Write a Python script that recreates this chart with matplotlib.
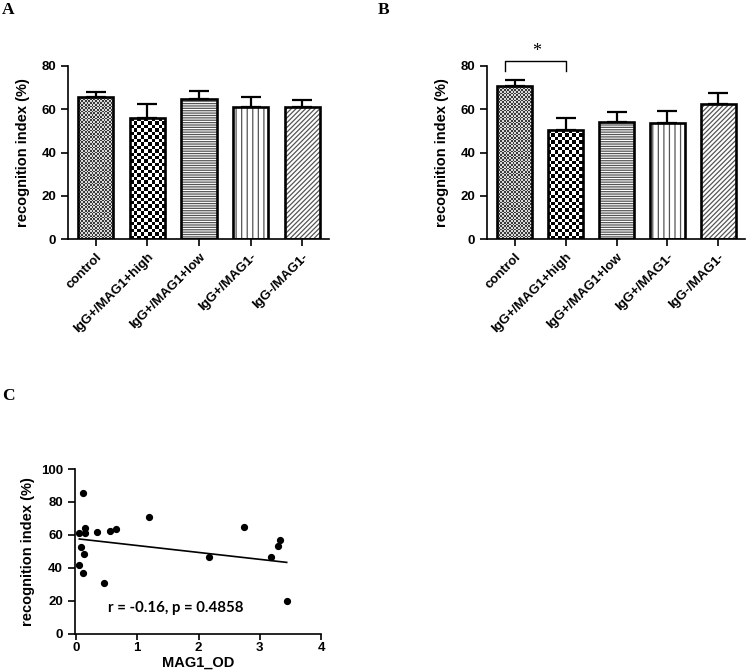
import numpy as np
import matplotlib
matplotlib.use("Agg")
import matplotlib.pyplot as plt
from matplotlib.colors import ListedColormap

plt.rcParams['font.family'] = ['Liberation Sans', 'DejaVu Sans']
plt.rcParams['font.weight'] = 'bold'
plt.rcParams['hatch.linewidth'] = 0.9

# data
groups = ['control', 'IgG+/MAG1+high', 'IgG+/MAG1+low', 'IgG+/MAG1-', 'IgG-/MAG1-']
vals_a = [65.5, 55.8, 64.7, 61.2, 61.2]
err_a = [2.3, 6.6, 3.7, 4.5, 2.9]
vals_b = [70.6, 50.4, 54.0, 53.5, 62.6]
err_b = [2.8, 5.4, 4.7, 5.7, 4.8]

mag1_od = [0.054, 0.054, 0.076, 0.109, 0.12, 0.13, 0.14, 0.14, 0.35, 0.45,
           0.555, 0.66, 1.19, 2.17, 2.75, 3.19, 3.29, 3.33, 3.44]
recog = [61.0, 41.5, 52.4, 85.2, 37.0, 48.4, 64.4, 61.1, 61.5, 30.6,
         62.2, 63.6, 70.7, 46.8, 64.6, 46.6, 53.1, 56.7, 19.7]
# regression line as drawn in the figure (end points)
fit_x = [0.054, 3.44]
fit_y = [57.5, 43.3]
stat_text = 'r = -0.16, p = 0.4858'

W, H = 746, 672
fig = plt.figure(figsize=(W / 100, H / 100), dpi=100)


def ax_rect(x0, y0, x1, y1):
    # pixel box -> figure fraction
    return [x0 / W, 1 - y1 / H, (x1 - x0) / W, (y1 - y0) / H]


def style_axes(ax):
    for s in ['top', 'right']:
        ax.spines[s].set_visible(False)
    for s in ['left', 'bottom']:
        ax.spines[s].set_linewidth(1.2)
    ax.tick_params(direction='out', length=5, width=1.2, labelsize=9.5)


def checker(ax, bar, cell_px, colors, zorder):
    x0, y0 = bar.get_x(), bar.get_y()
    w, h = bar.get_width(), bar.get_height()
    p0 = ax.transData.transform((x0, y0))
    p1 = ax.transData.transform((x0 + w, y0 + h))
    nx = max(1, int(round((p1[0] - p0[0]) / cell_px)))
    ny = max(1, int(round((p1[1] - p0[1]) / cell_px)))
    arr = np.add.outer(np.arange(ny), np.arange(nx)) % 2
    ax.imshow(arr, cmap=ListedColormap(colors), extent=(x0, x0 + w, y0, y0 + h),
              aspect='auto', interpolation='nearest', zorder=zorder)


def bar_panel(ax, vals, errs):
    x = np.arange(len(groups))
    ax.set_xlim(-0.54, 4.52)
    ax.set_ylim(0, 80)
    width = 0.68
    bars = ax.bar(x, vals, width, color='white', linewidth=0, zorder=2)
    checker(ax, bars[0], 1.7, ['#3a3a3a', '#d8d8d8'], 2.5)
    checker(ax, bars[1], 3.4, ['black', 'white'], 2.5)
    ax.bar(x[2], vals[2], width, color='white', hatch='-------', edgecolor='#555555', linewidth=0, zorder=2.5)
    ax.bar(x[3], vals[3], width, color='white', hatch='|||', edgecolor='#555555', linewidth=0, zorder=2.5)
    ax.bar(x[4], vals[4], width, color='white', hatch='///////', edgecolor='#555555', linewidth=0, zorder=2.5)
    ax.bar(x, vals, width, fill=False, edgecolor='black', linewidth=1.9, zorder=3)
    ax.errorbar(x, vals, yerr=[np.zeros(len(errs)), errs], fmt='none', ecolor='black',
                elinewidth=1.6, capsize=7, capthick=1.6, zorder=4)
    ax.set_xlim(-0.54, 4.52)
    ax.set_ylim(0, 80)
    ax.set_yticks([0, 20, 40, 60, 80])
    ax.set_xticks(x)
    ax.set_xticklabels(groups, rotation=45, ha='right', rotation_mode='anchor')
    ax.set_ylabel('recognition index (%)', fontsize=10.5, fontweight='bold', labelpad=8)
    style_axes(ax)


ax_a = fig.add_axes(ax_rect(68, 66, 329, 239))
bar_panel(ax_a, vals_a, err_a)

ax_b = fig.add_axes(ax_rect(487, 66, 745, 239))
bar_panel(ax_b, vals_b, err_b)
ax_b.plot([-0.18, -0.18, 1.0, 1.0], [77.8, 82.3, 82.3, 77.8], color='black', lw=1.0, clip_on=False)
ax_b.text(0.43, 86.5, '*', ha='center', va='center', fontsize=13, fontweight='normal',
          family='Liberation Serif', clip_on=False)

# scatter panel
ax_c = fig.add_axes(ax_rect(76, 469, 321, 633.7))
ax_c.plot(mag1_od, recog, 'o', color='black', ms=4.2, zorder=3)
ax_c.plot(fit_x, fit_y, color='black', lw=1.2)
ax_c.set_xlim(0, 4)
ax_c.set_ylim(0, 100)
ax_c.set_xticks([0, 1, 2, 3, 4])
ax_c.set_yticks([0, 20, 40, 60, 80, 100])
style_axes(ax_c)
ax_c.tick_params(axis='x', length=4, pad=2)
ax_c.set_xlabel('MAG1_OD', fontsize=10.5, fontweight='bold', labelpad=1)
ax_c.set_ylabel('recognition index (%)', fontsize=10.5, fontweight='bold', labelpad=4)
ax_c.spines['left'].set_position(('outward', 1))
ax_c.text(0.52, 15.6, stat_text, fontsize=10.8, fontweight='bold', family=['Lato', 'DejaVu Sans'],
          ha='left', va='center')

for lbl, (px, py) in zip(['A', 'B', 'C'], [(2, 2), (378, 2), (2, 388)]):
    fig.text(px / W, 1 - py / H, lbl, fontsize=12.5, fontweight='bold',
             family='Liberation Serif', ha='left', va='top')

fig.savefig('out.png', dpi=100)
